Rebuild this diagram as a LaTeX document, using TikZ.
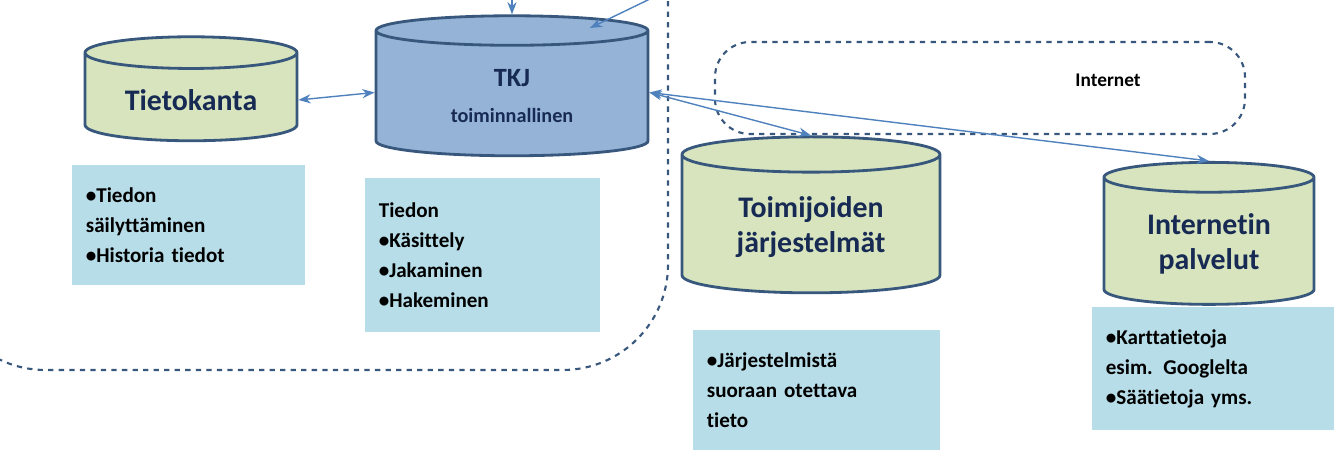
\documentclass[tikz,border=0pt]{standalone}
\usepackage{fontspec}
\setmainfont[Ligatures=NoCommon]{Carlito}
\usetikzlibrary{shapes.geometric, arrows.meta, positioning}
\definecolor{dbgreen}{RGB}{215, 228, 189}
\definecolor{dbblue}{RGB}{149, 179, 215}
\definecolor{dbedge}{RGB}{56, 87, 125}
\definecolor{notebg}{RGB}{183, 221, 232}
\definecolor{navy}{RGB}{23, 42, 84}
\definecolor{arrowblue}{RGB}{79, 129, 189}
\begin{document}
\begin{tikzpicture}[
    x=0.02cm, y=-0.02cm,
    db/.style={cylinder, shape border rotate=90, draw=dbedge, line width=1.6pt, aspect=0.22, fill=dbgreen, align=center, text=navy, font=\bfseries\fontsize{17}{20}\selectfont},
    note/.style={rectangle, fill=notebg, align=left, anchor=north west, inner xsep=7pt, inner ysep=5pt, font=\bfseries\fontsize{12}{17}\selectfont, text=black},
    arrow/.style={{Stealth[length=7pt]}-{Stealth[length=7pt]}, thick, draw=arrowblue},
    zone/.style={dashed, draw=dbedge, line width=1.2pt, rounded corners=20}
]
    \useasboundingbox (0,0) rectangle (1339,452);

    % Local system
    \draw[zone, rounded corners=60] (668,-20) -- (668,370) -- (-60,370) -- (-60,-20);

    % Internet zone
    \node[zone, draw, minimum width=530*0.02cm, minimum height=92*0.02cm] (inet) at (980,88) {};
    \node[font=\bfseries\fontsize{11}{13}\selectfont] (inetlabel) at (1108,80) {Internet};

    % Databases
    \node[db, minimum width=212*0.02cm, minimum height=104*0.02cm] (tk) at (191,100) {Tietokanta};
    \node[db, fill=dbblue, minimum width=272*0.02cm, minimum height=140*0.02cm] (tkj) at (512,96) {\fontsize{15}{18}\selectfont TKJ\\\fontsize{11.5}{16}\selectfont toiminnallinen};
    \node[db, minimum width=258*0.02cm, minimum height=156*0.02cm] (toim) at (811,227) {Toimijoiden\\järjestelmät};
    \node[db, minimum width=210*0.02cm, minimum height=142*0.02cm] (ipal) at (1209,244) {Internetin\\palvelut};

    % Notes
    \node[note, minimum width=233*0.02cm, minimum height=120*0.02cm, text width=206*0.02cm] (n1) at (72,165) {•Tiedon\\säilyttäminen\\•Historia tiedot};
    \node[note, minimum width=235*0.02cm, minimum height=154*0.02cm, text width=208*0.02cm] (n2) at (365,178) {Tiedon\\•Käsittely\\•Jakaminen\\•Hakeminen};
    \node[note, minimum width=247*0.02cm, minimum height=120*0.02cm, text width=220*0.02cm] (n3) at (693,330) {•Järjestelmistä\\suoraan otettava\\tieto};
    \node[note, minimum width=242*0.02cm, minimum height=123*0.02cm, text width=215*0.02cm] (n4) at (1092,307) {•Karttatietoja\\esim. Googlelta\\•Säätietoja yms.};

    % Incoming from above
    \coordinate (up1) at (512,-2);
    \coordinate (up2) at (652,-2);
    \draw[arrow, {-Stealth[length=7pt]}] (up1) -- (tkj.north);
    \draw[arrow, {-Stealth[length=7pt]}] (up2) -- (590,28);

    % Links
    \draw[arrow] (tk.east) -- ([yshift=2pt]tkj.west);
    \draw[arrow] ([yshift=2pt]tkj.east) -- (toim.north);
    \draw[arrow] ([yshift=2pt]tkj.east) -- (ipal.north);
\end{tikzpicture}
\end{document}
